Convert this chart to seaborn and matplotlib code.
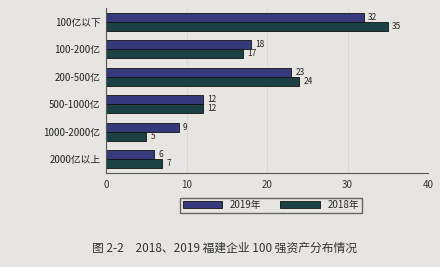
import pandas as pd
import seaborn as sns
import matplotlib.pyplot as plt

# Data
categories = ["100亿以下", "100-200亿", "200-500亿", "500-1000亿", "1000-2000亿", "2000亿以上"]
values_2019 = [32, 18, 23, 12, 9, 6]
values_2018 = [35, 17, 24, 12, 5, 7]
series_names = ["2019年", "2018年"]
x_ticks = [0, 10, 20, 30, 40]
caption = "图 2-2　2018、2019 福建企业 100 强资产分布情况"

paper = "#e7e5e2"
colors = ["#2a2f88", "#15474b"]

sns.set_theme(style="white")
plt.rcParams["font.family"] = ["Noto Sans CJK SC", "DejaVu Sans"]

df = pd.DataFrame({
    "category": categories * 2,
    "value": values_2019 + values_2018,
    "year": [series_names[0]] * len(categories) + [series_names[1]] * len(categories),
})

fig = plt.figure(figsize=(4.4, 2.67), dpi=100, facecolor=paper)
ax = fig.add_axes([0.241, 0.352, 0.732, 0.618])
ax.set_facecolor(paper)

sns.barplot(data=df, x="value", y="category", hue="year", order=categories,
            hue_order=series_names, palette=colors, orient="h", width=0.67,
            edgecolor="#111111", linewidth=0.6, ax=ax)

for cont in ax.containers:
    ax.bar_label(cont, padding=3, fontsize=6, color="#222222")

ax.set_xlim(0, 40)
ax.set_xticks(x_ticks)
ax.set_xlabel("")
ax.set_ylabel("")
ax.tick_params(axis="x", labelsize=7, colors="#333333", length=2, pad=3)
ax.tick_params(axis="y", labelsize=7, colors="#222222", length=0, pad=4)
ax.xaxis.grid(True, color="#d8d6d3", linewidth=0.6)
ax.set_axisbelow(True)
for s in ["top", "right"]:
    ax.spines[s].set_visible(False)
for s in ["left", "bottom"]:
    ax.spines[s].set_color("#555555")
    ax.spines[s].set_linewidth(0.8)

ax.legend(loc="upper center", bbox_to_anchor=(0.512, -0.12), ncol=2, fontsize=7,
          frameon=True, fancybox=False, edgecolor="#666666", facecolor=paper,
          handlelength=4.1, handleheight=0.8, columnspacing=1.9, borderpad=0.25,
          framealpha=1)

fig.text(0.21, 0.058, caption, fontsize=8.5, color="#333333")

fig.savefig("out.png", dpi=100, facecolor=paper)
